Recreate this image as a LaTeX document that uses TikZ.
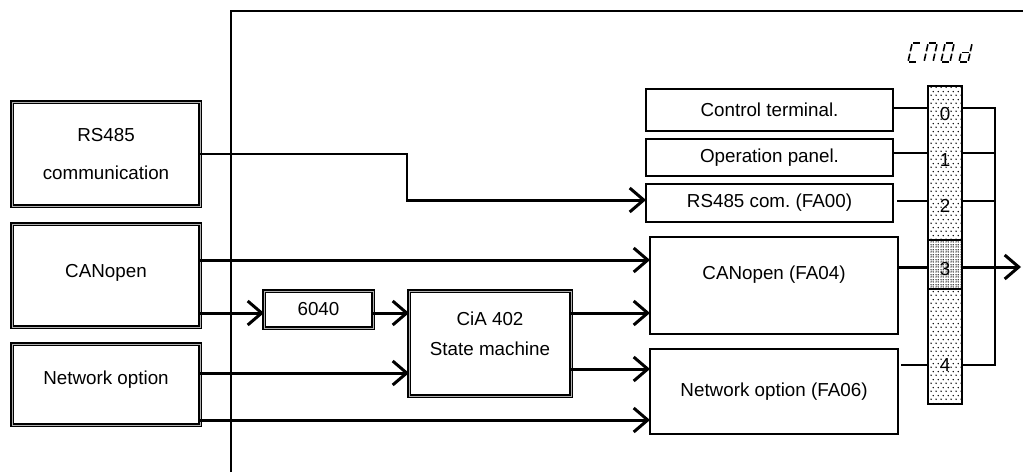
\documentclass[tikz,border=0pt]{standalone}
\usepackage{fontspec}
\setmainfont{Liberation Sans}
\usetikzlibrary{arrows.meta,patterns,calc}

\pgfdeclarepatternformonly{sparsedots}{\pgfqpoint{0pt}{0pt}}{\pgfqpoint{5pt}{8pt}}{\pgfqpoint{5pt}{8pt}}{%
  \pgfpathcircle{\pgfqpoint{1.25pt}{2pt}}{0.9pt}%
  \pgfpathcircle{\pgfqpoint{3.75pt}{6pt}}{0.9pt}%
  \pgfusepath{fill}}
\pgfdeclarepatternformonly{densedots}{\pgfqpoint{0pt}{0pt}}{\pgfqpoint{5pt}{5pt}}{\pgfqpoint{5pt}{5pt}}{%
  \pgfpathcircle{\pgfqpoint{1.25pt}{1.25pt}}{0.85pt}%
  \pgfpathcircle{\pgfqpoint{3.75pt}{1.25pt}}{0.85pt}%
  \pgfpathcircle{\pgfqpoint{1.25pt}{3.75pt}}{0.85pt}%
  \pgfpathcircle{\pgfqpoint{3.75pt}{3.75pt}}{0.85pt}%
  \pgfusepath{fill}}

\newcommand\cmSegA{\draw (1.2,-19)--(7.8,-19);}
\newcommand\cmSegB{\draw (9,-17.8)--(9,-10.7);}
\newcommand\cmSegC{\draw (9,-8.3)--(9,-1.2);}
\newcommand\cmSegD{\draw (1.2,0)--(7.8,0);}
\newcommand\cmSegE{\draw (0,-1.2)--(0,-8.3);}
\newcommand\cmSegF{\draw (0,-10.7)--(0,-17.8);}
\newcommand\cmSegG{\draw (1.2,-9.5)--(7.8,-9.5);}

\begin{document}
\begin{tikzpicture}[x=1pt,y=-1pt,
  font=\fontsize{18.8}{22}\selectfont,
  thinline/.style={line width=1.3pt},
  thickline/.style={line width=3pt},
  arr/.style={thickline, -{Straight Barb[length=14pt,width=24pt,line width=3pt]}},
  dbox/.style={draw, line width=1.5pt, double=gray!60, double distance=0.8pt, inner sep=0pt, outer sep=0pt, align=center},
  sbox/.style={draw, line width=1.5pt, inner sep=0pt, outer sep=0pt, align=center},
  txt/.style={inner sep=0pt, align=center},
  segstyle/.style={line width=1.6pt, xslant=0.22},
]
\useasboundingbox (0,0) rectangle (1023,472);

% frame
\coordinate (fb) at (231,472);
\coordinate (ft) at (231,11);
\coordinate (fr) at (1023,11);
\draw[thinline] (fb) -- (ft) -- (fr);

% left sources
\node[dbox, minimum width=188pt, minimum height=104pt, font=\fontsize{18.8}{38}\selectfont] (rs) at (106,154) {RS485\\communication};
\node[dbox, minimum width=188pt, minimum height=103pt] (can) at (106,275.5) {};
\node[txt] (cant) at (106,273) {CANopen};
\node[dbox, minimum width=188pt, minimum height=81pt] (net) at (106,384.5) {};
\node[txt] (nett) at (106,380) {Network option};

\node[dbox, minimum width=109pt, minimum height=37pt] (b6040) at (318.5,309.5) {6040};
\node[dbox, minimum width=162pt, minimum height=105pt] (cia) at (490,343.5) {};
\node[txt, font=\fontsize{18.8}{30}\selectfont] (ciat) at (490,334) {CiA 402\\State machine};

% right targets
\node[sbox, minimum width=247pt, minimum height=42pt] (ctrl) at (769.5,110) {Control terminal.};
\node[sbox, minimum width=247pt, minimum height=37pt] (oppan) at (769.5,157.5) {Operation panel.};
\node[sbox, minimum width=247pt, minimum height=38pt] (rscom) at (769.5,203) {RS485 com.\ (FA00)};
\node[sbox, minimum width=248pt, minimum height=97pt] (fa04) at (774,285.5) {};
\node[txt] (fa04t) at (774,275) {CANopen (FA04)};
\node[sbox, minimum width=248pt, minimum height=85pt] (fa06) at (774,391.5) {Network option (FA06)};

% selector bar
\node[draw, line width=1.5pt, preaction={fill=white}, pattern=sparsedots, minimum width=34pt, minimum height=318pt, inner sep=0pt, outer sep=0pt] (bar) at (945,245) {};
\node[draw, line width=1.5pt, preaction={fill=white}, pattern=densedots, minimum width=34pt, minimum height=49pt, inner sep=0pt, outer sep=0pt] (sel) at (945,264.5) {};
\node[txt] (s0) at (945,114) {0};
\node[txt] (s1) at (945,160) {1};
\node[txt] (s2) at (945,206) {2};
\node[txt] (s3) at (945,269) {3};
\node[txt] (s4) at (945,365) {4};

% CMOd display
\begin{scope}[shift={(908,62)}, segstyle] \cmSegA\cmSegF\cmSegE\cmSegD \end{scope}
\begin{scope}[shift={(924,62)}, segstyle] \cmSegA\cmSegB\cmSegC\cmSegE\cmSegF \end{scope}
\begin{scope}[shift={(941,62)}, segstyle] \cmSegA\cmSegB\cmSegC\cmSegD\cmSegE\cmSegF \end{scope}
\begin{scope}[shift={(959,62)}, segstyle] \cmSegB\cmSegC\cmSegD\cmSegE\cmSegG \end{scope}

% left connectors
\coordinate (rsb1) at (407,154);
\coordinate (rsb2) at (407,200);
\draw[thinline] (rs.east) -- (rsb1) -- (rsb2);
\draw[arr] ([xshift=-0.6pt]rsb2) -- (rscom.west |- rsb2);
\draw[arr] (can.east |- 0,260) -- (fa04.west |- 0,260);
\draw[arr] (can.east |- 0,313) -- (b6040.west |- 0,313);
\draw[arr] (b6040.east |- 0,313) -- (cia.west |- 0,313);
\draw[arr] (net.east |- 0,373) -- (cia.west |- 0,373);
\draw[arr] (net.east |- 0,420) -- (fa06.west |- 0,420);
\draw[arr] (cia.east |- 0,313) -- (fa04.west |- 0,313);
\draw[arr] (cia.east |- 0,369) -- (fa06.west |- 0,369);

% right connectors
\draw[thinline] (ctrl.east |- 0,108) -- (bar.west |- 0,108);
\draw[thinline] (oppan.east |- 0,153) -- (bar.west |- 0,153);
\draw[thinline, shorten <=4pt] (rscom.east |- 0,201) -- (bar.west |- 0,201);
\draw[thickline] (fa04.east |- 0,267) -- (sel.west |- 0,267);
\draw[thinline, shorten <=3pt] (fa06.east |- 0,365) -- (bar.west |- 0,365);

\coordinate (jt) at (995,108);
\coordinate (jb) at (995,365);
\draw[thinline] (bar.east |- jt) -- (jt) -- (jb) -- (bar.east |- jb);
\draw[thinline] (bar.east |- 0,153) -- (jt |- 0,153);
\draw[thinline] (bar.east |- 0,201) -- (jt |- 0,201);
\coordinate (out) at (1021,267);
\draw[arr] (sel.east |- out) -- (out);
\end{tikzpicture}
\end{document}
